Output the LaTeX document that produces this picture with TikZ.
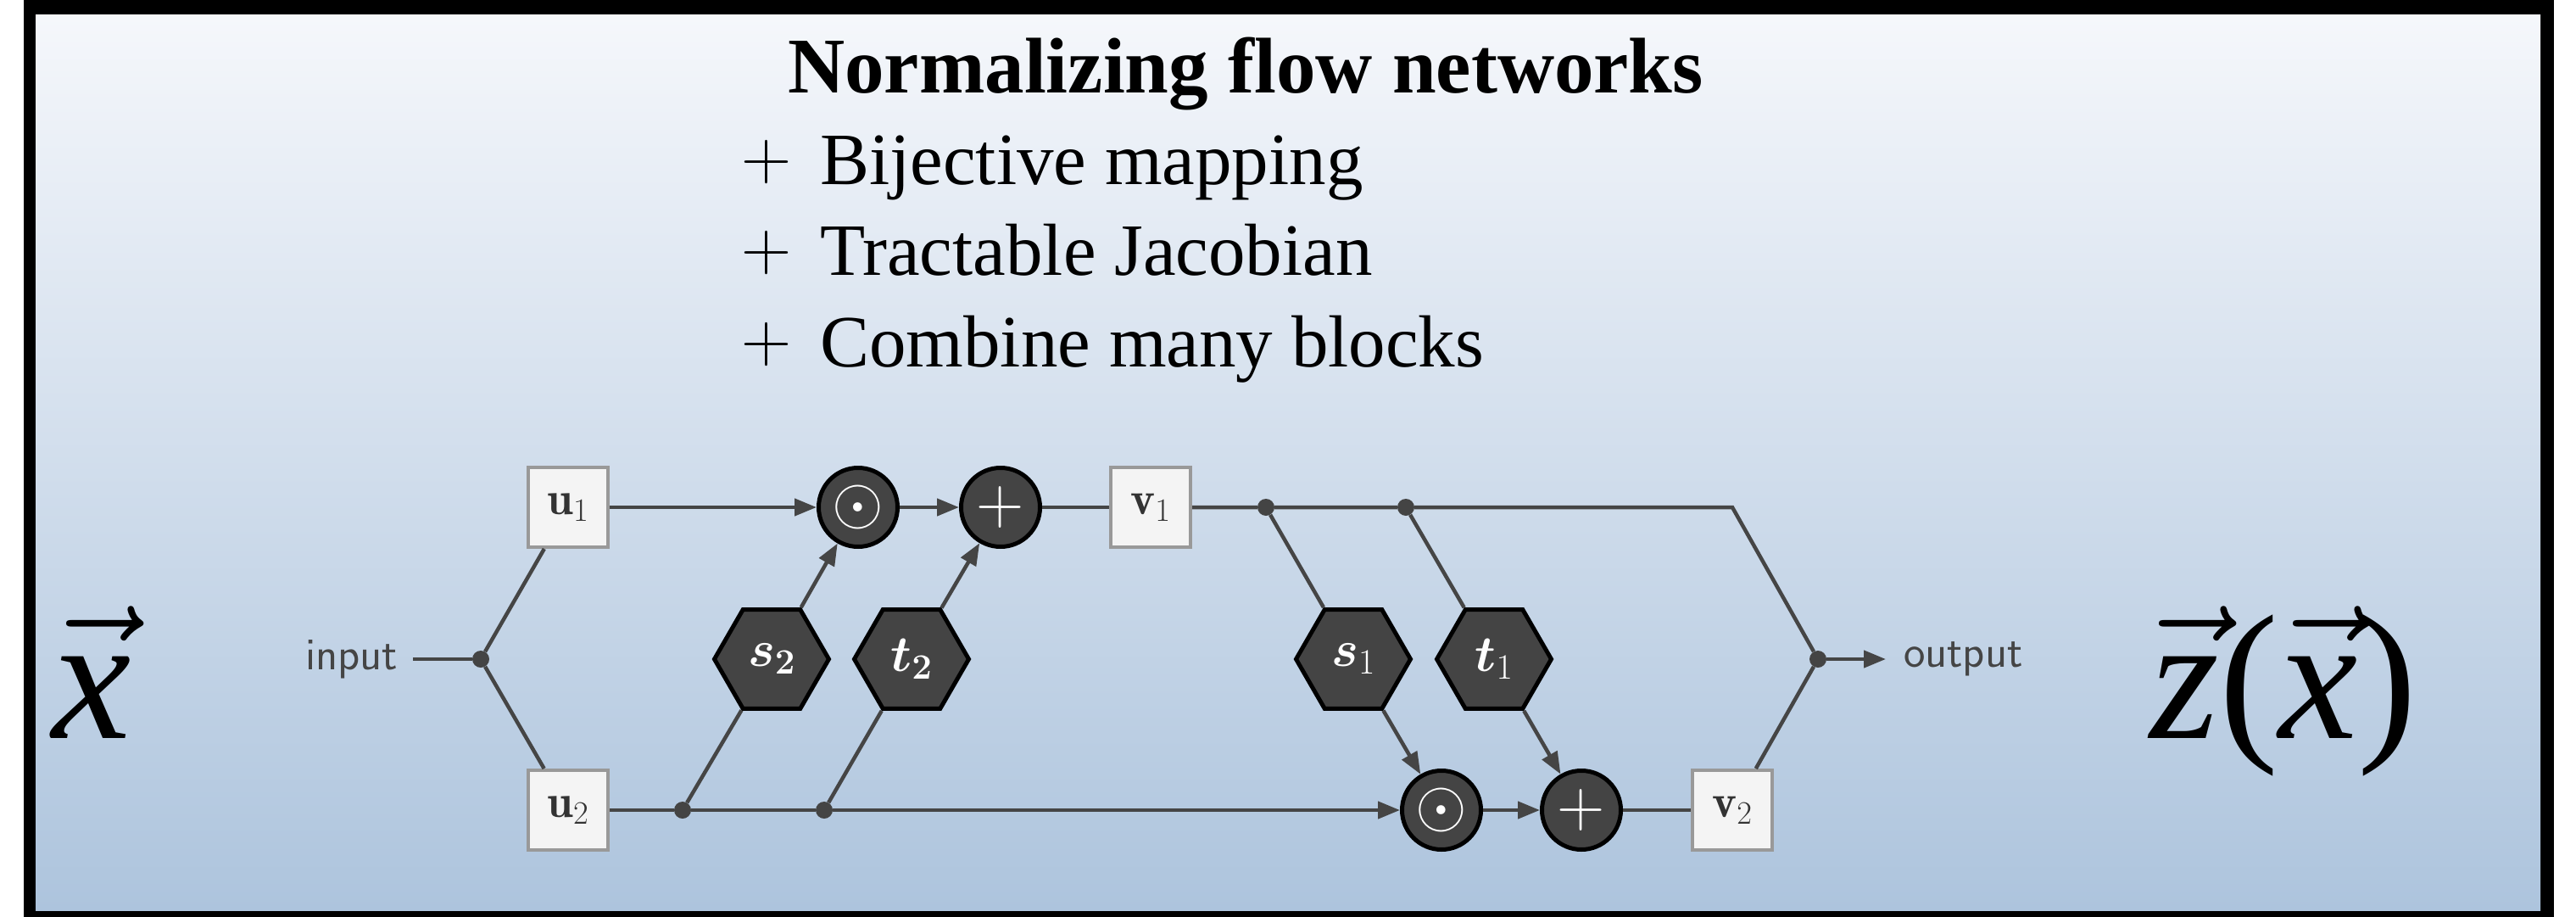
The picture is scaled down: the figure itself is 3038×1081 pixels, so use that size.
\RequirePackage{fix-cm}
\documentclass[tikz,border=0pt]{standalone}
\usepackage{fontspec}
\usepackage{bm}
\newfontfamily\timesfont[NFSSFamily=libser]{Liberation Serif}
\DeclareMathAlphabet{\mathtimes}{TU}{libser}{m}{it}
\usetikzlibrary{arrows.meta,shapes.geometric}
\definecolor{linegray}{HTML}{454545}
\definecolor{opfill}{HTML}{444444}
\definecolor{boxfill}{HTML}{F4F4F4}
\definecolor{boxline}{HTML}{999999}
\definecolor{bgtop}{HTML}{F5F7FB}
\definecolor{bgbot}{HTML}{ADC4DD}
\newcommand{\plusmark}{\raisebox{6pt}{\fontsize{82}{82}\selectfont$+$}}
\begin{document}
\begin{tikzpicture}[x=1pt,y=-1pt,
  varbox/.style={rectangle, draw=boxline, fill=boxfill, line width=4pt, minimum size=94pt, inner sep=0pt, text=black!80, font=\fontsize{55}{55}\selectfont},
  opnode/.style={circle, draw=black, fill=opfill, line width=5pt, minimum size=93pt, inner sep=0pt, text=white, font=\fontsize{78}{78}\selectfont},
  hexnode/.style={regular polygon, regular polygon sides=6, draw=black, fill=opfill, line width=5pt, minimum size=135pt, inner sep=0pt, text=white, font=\fontsize{60}{60}\selectfont},
  junc/.style={circle, fill=opfill, minimum size=20pt, inner sep=0pt},
  conn/.style={draw=linegray, line width=4.5pt},
  arr/.style={conn, -{Triangle[length=26pt,width=20pt]}},
  iolabel/.style={font=\sffamily\fontsize{54}{54}\selectfont, text=linegray, inner sep=0pt},
  headline/.style={font=\timesfont\bfseries\fontsize{93}{93}\selectfont, inner sep=0pt},
  bulletline/.style={font=\timesfont\fontsize{87}{87}\selectfont, inner sep=0pt, anchor=base west},
  bigvec/.style={font=\timesfont\fontsize{210}{210}\selectfont, inner sep=0pt, anchor=base},
]
\useasboundingbox (0,0) rectangle (3038,1081);
\fill[white] (0,0) rectangle (3038,1081);
\fill[black] (28,-10) rectangle (3012,1091);
\shade[top color=bgtop, bottom color=bgbot] (42,18) rectangle (2996,1073);

% text
\node[headline, anchor=base] (title) at (1469,110) {Normalizing flow networks};
\node[bulletline] (b1) at (874,217) {\plusmark\hspace{34pt}Bijective mapping};
\node[bulletline] (b2) at (874,324) {\plusmark\hspace{34pt}Tractable Jacobian};
\node[bulletline] (b3) at (874,432) {\plusmark\hspace{34pt}Combine many blocks};

\node[bigvec] (xvec) at (108,870) {$\vec{\mathtimes{x}}$};
\node[bigvec] (zvec) at (2693,870) {$\vec{\mathtimes{z}}$($\vec{\mathtimes{x}}$)};

% nodes
\node[junc] (j0) at (567,777) {};
\node[varbox] (u1) at (670,598) {$\mathbf{u}_1$};
\node[varbox] (u2) at (670,955) {$\mathbf{u}_2$};
\node[opnode] (od1) at (1012,598) {$\odot$};
\node[opnode] (pl1) at (1180,598) {$+$};
\node[hexnode] (s2) at (910,777) {$\bm{s_2}$};
\node[hexnode] (t2) at (1075,777) {$\bm{t_2}$};
\node[junc] (d1) at (805,955) {};
\node[junc] (d2) at (972,955) {};
\node[varbox] (v1) at (1357,598) {$\mathbf{v}_1$};
\node[junc] (d3) at (1493,598) {};
\node[junc] (d4) at (1658,598) {};
\node[hexnode] (s1) at (1596,777) {$\bm{s}_1$};
\node[hexnode] (t1) at (1762,777) {$\bm{t}_1$};
\node[opnode] (od2) at (1700,955) {$\odot$};
\node[opnode] (pl2) at (1865,955) {$+$};
\node[varbox] (v2) at (2043,955) {$\mathbf{v}_2$};
\coordinate (corner) at (2043,598);
\node[junc] (jout) at (2144,777) {};
\node[iolabel, anchor=east, outer sep=18pt] (input) at (487,777) {input};
\node[iolabel, anchor=west, outer sep=21pt] (output) at (2224,777) {output};

% connectors
\draw[conn] (input) -- (j0);
\draw[conn] (j0) -- (u1);
\draw[conn] (j0) -- (u2);
\draw[arr] (u1) -- (od1);
\draw[arr] (od1) -- (pl1);
\draw[conn] (pl1) -- (v1);
\draw[arr] (u2) -- (d1) -- (d2) -- (od2);
\draw[conn] (d1) -- (s2);
\draw[arr] (s2) -- (od1);
\draw[conn] (d2) -- (t2);
\draw[arr] (t2) -- (pl1);
\draw[conn] (v1) -- (d3) -- (d4) -- (corner) -- (jout);
\draw[conn] (d3) -- (s1);
\draw[arr] (s1) -- (od2);
\draw[conn] (d4) -- (t1);
\draw[arr] (t1) -- (pl2);
\draw[arr] (od2) -- (pl2);
\draw[conn] (pl2) -- (v2);
\draw[conn] (v2) -- (jout);
\draw[arr] (jout) -- (output);
\end{tikzpicture}
\end{document}
